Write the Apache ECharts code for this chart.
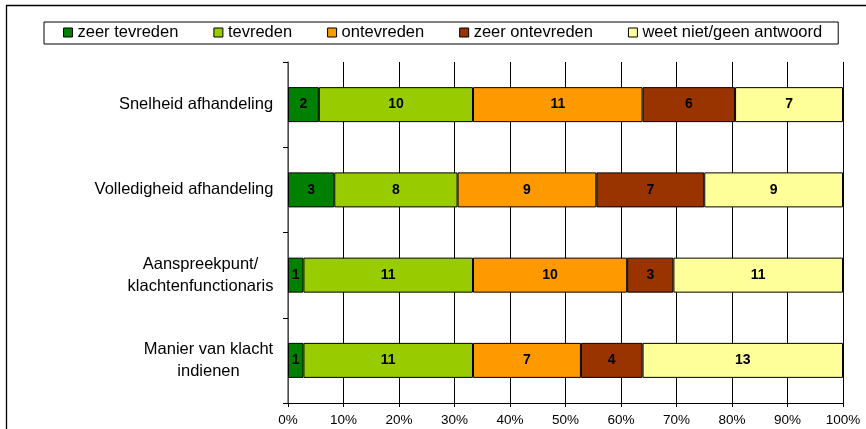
<!DOCTYPE html>
<html><head><meta charset="utf-8">
<script src="https://cdn.jsdelivr.net/npm/echarts@6/dist/echarts.min.js"></script>
<style>html,body{margin:0;padding:0;background:#fff}#c{width:866px;height:429px}</style>
</head><body><div id="c"></div>
<script>
const categories = ['Snelheid afhandeling', 'Volledigheid afhandeling', 'Aanspreekpunt/\nklachtenfunctionaris', 'Manier van klacht\nindienen'];
const seriesNames = ['zeer tevreden', 'tevreden', 'ontevreden', 'zeer ontevreden', 'weet niet/geen antwoord'];
const zeerTevreden = [2, 3, 1, 1];
const tevreden = [10, 8, 11, 11];
const ontevreden = [11, 9, 10, 7];
const zeerOntevreden = [6, 7, 3, 4];
const weetNiet = [7, 9, 11, 13];
const tickLabels = ['0%','10%','20%','30%','40%','50%','60%','70%','80%','90%','100%'];
const colors = ['#008000', '#99CC00', '#FF9900', '#993300', '#FFFF99'];

const all = [zeerTevreden, tevreden, ontevreden, zeerOntevreden, weetNiet];
const totals = categories.map((_, i) => all.reduce((s, a) => s + a[i], 0));
const font = 'Liberation Sans, Arial, sans-serif';
const catFontSize = 16.5;

// measure label lines so multi-line labels are centred within their block
const ctx = document.createElement('canvas').getContext('2d');
ctx.font = catFontSize + 'px Liberation Sans';
const rich = {};
categories.forEach((c, i) => {
  const w = Math.max(...c.split('\n').map(l => ctx.measureText(l).width));
  rich['r' + i] = {width: Math.ceil(w) + 1, align: 'center', fontFamily: font, fontSize: catFontSize, color: '#000', lineHeight: 22};
});

const chart = echarts.init(document.getElementById('c'), null, {renderer: 'canvas'});
chart.setOption({
  animation: false,
  graphic: [{type: 'rect', shape: {x: 6.5, y: 5.5, width: 900, height: 500}, style: {fill: 'none', stroke: '#000', lineWidth: 1.3}, silent: true}],
  legend: {
    top: 22, left: 44, itemWidth: 9, itemHeight: 9, itemGap: 35,
    icon: 'rect', borderColor: '#000', borderWidth: 1, padding: [2, 16, 3, 19],
    textStyle: {fontFamily: font, fontSize: catFontSize, color: '#000'},
    data: seriesNames.map((n) => ({name: n, itemStyle: {borderColor: '#000', borderWidth: 1}}))
  },
  grid: {left: 288, right: 23, top: 62, bottom: 26, containLabel: false},
  xAxis: {
    type: 'value', min: 0, max: 100, interval: 10,
    axisLine: {show: true, lineStyle: {color: '#000'}},
    axisTick: {show: true, length: 4, lineStyle: {color: '#000'}},
    splitLine: {show: true, lineStyle: {color: '#000', width: 1}},
    axisLabel: {fontFamily: font, fontSize: 13.5, color: '#000', margin: 10, formatter: (v) => tickLabels[Math.round(v / 10)]}
  },
  yAxis: {
    type: 'category', data: categories, inverse: true,
    axisLine: {show: true, lineStyle: {color: '#666', width: 1.5}},
    axisTick: {show: true, length: 5, inside: false, lineStyle: {color: '#000'}},
    axisLabel: {margin: 14, rich: rich,
      formatter: (v, i) => v.split('\n').map(l => '{r' + i + '|' + l + '}').join('\n')},
  },
  series: all.map((arr, si) => ({
    name: seriesNames[si], type: 'bar', stack: 'a', barWidth: 35,
    itemStyle: {color: colors[si], borderColor: '#000', borderWidth: 1},
    label: {show: true, position: 'inside', fontFamily: font, fontWeight: 'bold', fontSize: 14, color: '#000',
      formatter: (p) => arr[p.dataIndex]},
    data: arr.map((v, i) => v / totals[i] * 100)
  }))
});
</script></body></html>
